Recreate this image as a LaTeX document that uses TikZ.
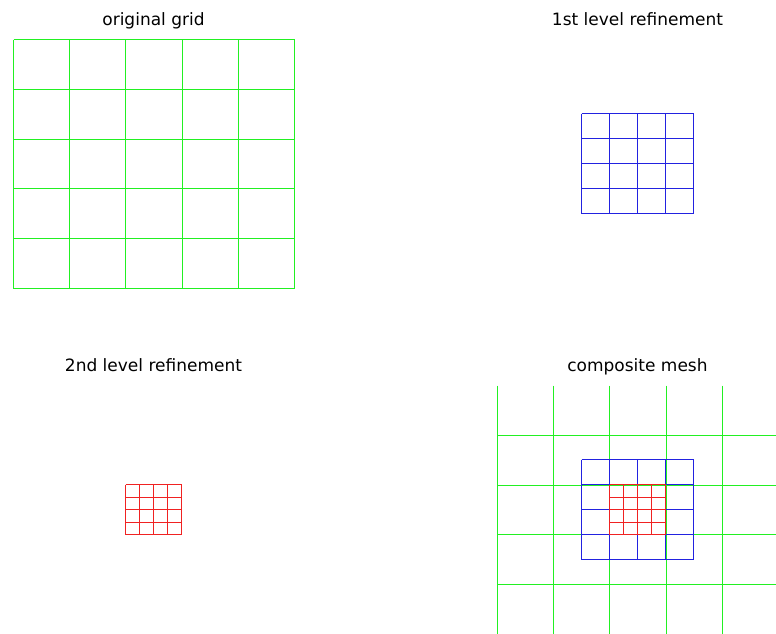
\documentclass[tikz,border=0pt]{standalone}
\usepackage{fontspec}
\setmainfont{DejaVu Sans}
\usepackage{xcolor}
\usepackage{tikz}
\definecolor{MeshGreen}{HTML}{22F022}
\definecolor{MeshBlue}{HTML}{2222E0}
\definecolor{MeshRed}{HTML}{F02222}
\tikzset{
  coarse/.style={draw=MeshGreen,line width=0.75pt},
  fine/.style={draw=MeshBlue,line width=0.75pt},
  finer/.style={draw=MeshRed,line width=0.75pt},
  paneltitle/.style={anchor=base,inner sep=0pt,font=\fontsize{12.75}{15}\selectfont}
}

\begin{document}
\begin{tikzpicture}[x=0.75pt,y=-0.75pt]
\path[use as bounding box] (0,0) rectangle (776,633);
% panel titles
\node[paneltitle] (tOrig) at (153.5,25) {original grid};
\node[paneltitle] (tFirst) at (637.5,25) {1st level refinement};
\node[paneltitle] (tSecond) at (153.5,371) {2nd level refinement};
\node[paneltitle] (tComp) at (637.5,371) {composite mesh};
\begin{scope}[shift={(0.5,0.5)}]
% original grid
\foreach \gx in {13,69,125,182,238,294}
  \draw[coarse] (\gx,39) -- (\gx,288);
\foreach \gy in {39,89,139,188,238,288}
  \draw[coarse] (13,\gy) -- (294,\gy);
% 1st level
\begin{scope}[shift={(484,0)}]
\foreach \fx in {97,125,153,181,209}
  \draw[fine] (\fx,113) -- (\fx,213);
\foreach \fy in {113,138,163,188,213}
  \draw[fine] (97,\fy) -- (209,\fy);
\end{scope}
% 2nd level
\begin{scope}[shift={(0,346)}]
\foreach \rx in {125,139,153,167,181}
  \draw[finer] (\rx,138) -- (\rx,188);
\foreach \ry in {138,151,163,176,188}
  \draw[finer] (125,\ry) -- (181,\ry);
\end{scope}
% composite mesh
\begin{scope}[shift={(484,346)}]
\clip (12,38) rectangle (292,287);
\foreach \gx in {13,69,125,182,238,294}
  \draw[coarse] (\gx,39) -- (\gx,288);
\foreach \gy in {89,139,188,238,288}
  \draw[coarse] (13,\gy) -- (294,\gy);
\foreach \fx in {97,125,153,181,209}
  \draw[fine] (\fx,113) -- (\fx,213);
\foreach \fy in {113,138,163,188,213}
  \draw[fine] (97,\fy) -- (209,\fy);
\foreach \rx in {125,139,153,167,181}
  \draw[finer] (\rx,138) -- (\rx,188);
\foreach \ry in {138,151,163,176,188}
  \draw[finer] (125,\ry) -- (181,\ry);
\end{scope}
\end{scope}
\end{tikzpicture}
\end{document}
